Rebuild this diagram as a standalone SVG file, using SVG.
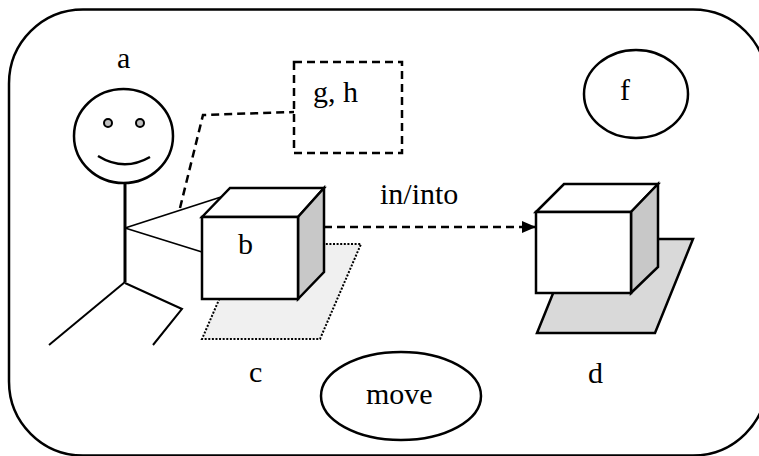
<svg xmlns="http://www.w3.org/2000/svg" width="759" height="456" viewBox="0 0 759 456">
  <style>
    .ln { fill: none; stroke: #000; stroke-width: 2.5; stroke-linejoin: miter; }
    .thin { fill: none; stroke: #000; stroke-width: 1.8; }
    .face { fill: #fff; stroke: #000; stroke-width: 2.5; stroke-linejoin: miter; }
    .side { fill: #c8c8c8; stroke: #000; stroke-width: 2.5; stroke-linejoin: miter; }
    .dash { fill: none; stroke: #000; stroke-width: 2.5; stroke-dasharray: 8 5; }
    .lbl { font-family: "Liberation Serif", "Times New Roman", serif; font-size: 30px; fill: #000; }
  </style>
  <defs>
    <marker id="arrow" viewBox="0 0 14 12" refX="14" refY="6" markerWidth="14" markerHeight="12" markerUnits="userSpaceOnUse" orient="auto">
      <path d="M0,0 L14,6 L0,12 Z" fill="#000"/>
    </marker>
  </defs>

  <rect fill="#fff" x="0" y="0" width="759" height="456"/>

  <!-- frame around the whole scene -->
  <g id="frame">
    <rect class="ln" x="9" y="9.5" width="758" height="446" rx="74" ry="74"/>
  </g>

  <!-- location c: dotted plate under cube b -->
  <g id="location-c">
    <polygon points="243,244 361,244 320,339 202,339" fill="#f0f0f0" stroke="#000" stroke-width="2" stroke-dasharray="2 1.6"/>
    <text class="lbl" x="249" y="382">c</text>
  </g>

  <!-- location d: grey plate under cube d -->
  <g id="location-d">
    <polygon class="ln" points="575,239 693,239 655,333 537,333" style="fill:#d9d9d9"/>
    <text class="lbl" x="588" y="383">d</text>
  </g>

  <!-- connectors -->
  <g id="connectors">
    <!-- arm lines from the figure to cube b -->
    <line class="thin" x1="125" y1="228" x2="221" y2="197"/>
    <line class="thin" x1="125" y1="228" x2="202" y2="252"/>
    <!-- dashed link to the g, h box -->
    <polyline class="dash" points="180,208 203,115 294,112"/>
    <!-- dashed arrow from b to d -->
    <line class="dash" x1="324" y1="227" x2="536" y2="227" marker-end="url(#arrow)"/>
    <text class="lbl" x="380" y="204">in/into</text>
  </g>

  <!-- stick figure a -->
  <g id="person-a">
    <text class="lbl" x="117" y="68">a</text>
    <ellipse class="ln" cx="123.5" cy="136" rx="49.5" ry="47"/>
    <circle cx="108" cy="123" r="4" fill="#c0c0c0" stroke="#000" stroke-width="2"/>
    <circle cx="140" cy="123" r="4" fill="#c0c0c0" stroke="#000" stroke-width="2"/>
    <path class="ln" d="M98,156 Q124,172 150,157"/>
    <line x1="125" y1="183" x2="125" y2="282" stroke="#000" stroke-width="3"/>
    <line class="thin" x1="125" y1="282" x2="49" y2="345" style="stroke-width:2"/>
    <polyline class="thin" points="125,283 182,309 153,345" style="stroke-width:2"/>
  </g>

  <!-- cube b -->
  <g id="object-b">
    <polygon class="face" points="202,217 230,188 324,188 298,217"/>
    <polygon class="side" points="298,217 324,188 324,272 298,299"/>
    <rect class="face" x="202" y="217" width="96" height="82"/>
    <text class="lbl" x="238" y="254">b</text>
  </g>

  <!-- cube d -->
  <g id="object-d">
    <polygon class="face" points="536,212 564,184 658,184 631,212"/>
    <polygon class="side" points="631,212 658,184 658,267 631,293"/>
    <rect class="face" x="536" y="212" width="95" height="81"/>
  </g>

  <!-- dashed box g, h -->
  <g id="box-gh">
    <rect class="dash" x="294" y="62" width="108" height="91"/>
    <text class="lbl" x="313" y="102">g, h</text>
  </g>

  <!-- ellipse f -->
  <g id="ellipse-f">
    <ellipse class="ln" cx="636" cy="94" rx="52" ry="44"/>
    <text class="lbl" x="620" y="100">f</text>
  </g>

  <!-- ellipse move -->
  <g id="ellipse-move">
    <ellipse class="ln" cx="401" cy="396" rx="80" ry="44"/>
    <text class="lbl" x="366" y="404">move</text>
  </g>
</svg>
